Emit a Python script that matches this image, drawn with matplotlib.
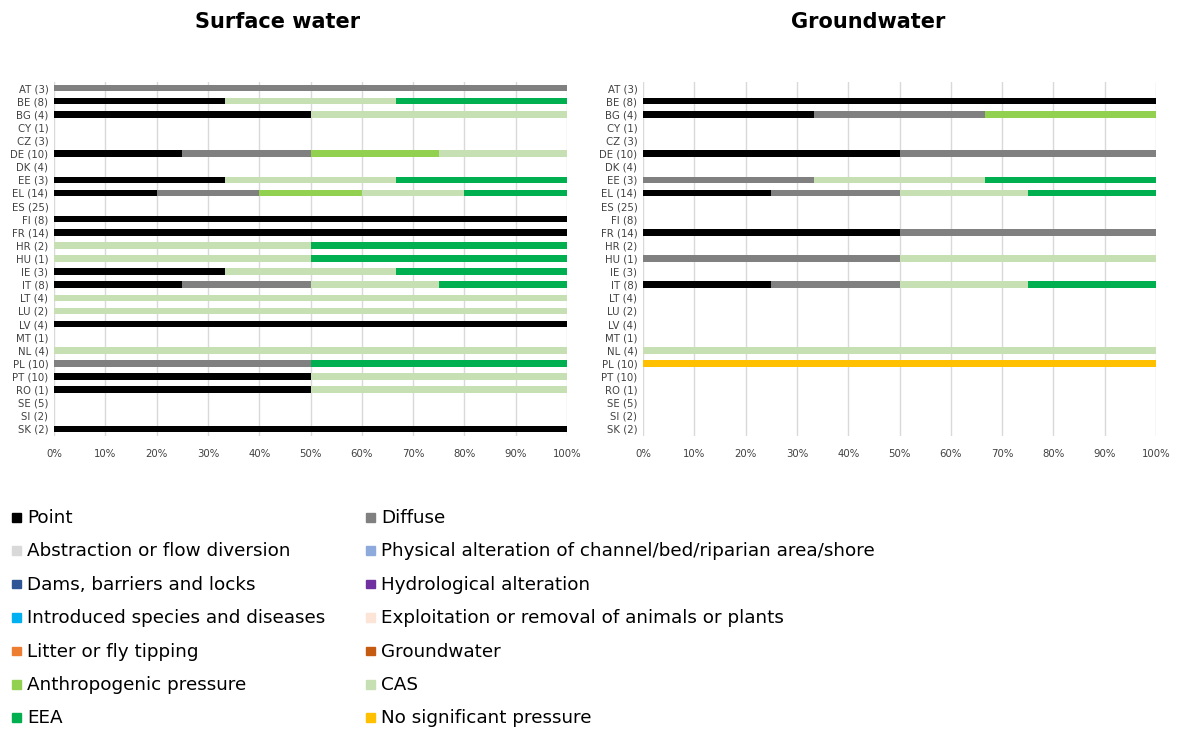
import matplotlib
matplotlib.use("Agg")
import matplotlib.pyplot as plt
from matplotlib.patches import Rectangle
import numpy as np

countries = ["AT (3)", "BE (8)", "BG (4)", "CY (1)", "CZ (3)", "DE (10)", "DK (4)",
             "EE (3)", "EL (14)", "ES (25)", "FI (8)", "FR (14)", "HR (2)", "HU (1)",
             "IE (3)", "IT (8)", "LT (4)", "LU (2)", "LV (4)", "MT (1)", "NL (4)",
             "PL (10)", "PT (10)", "RO (1)", "SE (5)", "SI (2)", "SK (2)"]

categories = ["Point", "Diffuse", "Abstraction or flow diversion",
              "Physical alteration of channel/bed/riparian area/shore",
              "Dams, barriers and locks", "Hydrological alteration",
              "Introduced species and diseases",
              "Exploitation or removal of animals or plants",
              "Litter or fly tipping", "Groundwater", "Anthropogenic pressure",
              "CAS", "EEA", "No significant pressure"]

colors = ["#000000", "#808080", "#D9D9D9", "#8EA9DB", "#2F5597", "#7030A0",
          "#00B0F0", "#FCE4D6", "#ED7D31", "#C55A11", "#92D050", "#C6E0B4",
          "#00B050", "#FFC000"]

# surface water, % share per country (same order as countries)
sw_point = [0, 33.33, 50, 0, 0, 25, 0, 33.33, 20, 0, 100, 100, 0, 0,
            33.33, 25, 0, 0, 100, 0, 0, 0, 50, 50, 0, 0, 100]
sw_diffuse = [100, 0, 0, 0, 0, 25, 0, 0, 20, 0, 0, 0, 0, 0,
              0, 25, 0, 0, 0, 0, 0, 50, 0, 0, 0, 0, 0]
sw_anthro = [0, 0, 0, 0, 0, 25, 0, 0, 20, 0, 0, 0, 0, 0,
             0, 0, 0, 0, 0, 0, 0, 0, 0, 0, 0, 0, 0]
sw_cas = [0, 33.33, 50, 0, 0, 25, 0, 33.33, 20, 0, 0, 0, 50, 50,
          33.33, 25, 100, 100, 0, 0, 100, 0, 50, 50, 0, 0, 0]
sw_eea = [0, 33.34, 0, 0, 0, 0, 0, 33.34, 20, 0, 0, 0, 50, 50,
          33.34, 25, 0, 0, 0, 0, 0, 50, 0, 0, 0, 0, 0]

# groundwater
gw_point = [0, 100, 33.33, 0, 0, 50, 0, 0, 25, 0, 0, 50, 0, 0,
            0, 25, 0, 0, 0, 0, 0, 0, 0, 0, 0, 0, 0]
gw_diffuse = [0, 0, 33.33, 0, 0, 50, 0, 33.33, 25, 0, 0, 50, 0, 50,
              0, 25, 0, 0, 0, 0, 0, 0, 0, 0, 0, 0, 0]
gw_anthro = [0, 0, 33.34, 0, 0, 0, 0, 0, 0, 0, 0, 0, 0, 0,
             0, 0, 0, 0, 0, 0, 0, 0, 0, 0, 0, 0, 0]
gw_cas = [0, 0, 0, 0, 0, 0, 0, 33.33, 25, 0, 0, 0, 0, 50,
          0, 25, 0, 0, 0, 0, 100, 0, 0, 0, 0, 0, 0]
gw_eea = [0, 0, 0, 0, 0, 0, 0, 33.34, 25, 0, 0, 0, 0, 0,
          0, 25, 0, 0, 0, 0, 0, 0, 0, 0, 0, 0, 0]
gw_nosig = [0, 0, 0, 0, 0, 0, 0, 0, 0, 0, 0, 0, 0, 0,
            0, 0, 0, 0, 0, 0, 0, 100, 0, 0, 0, 0, 0]

surface = {"Point": sw_point, "Diffuse": sw_diffuse,
           "Anthropogenic pressure": sw_anthro, "CAS": sw_cas, "EEA": sw_eea}
ground = {"Point": gw_point, "Diffuse": gw_diffuse,
          "Anthropogenic pressure": gw_anthro, "CAS": gw_cas, "EEA": gw_eea,
          "No significant pressure": gw_nosig}

W, H = 1177, 729
fig = plt.figure(figsize=(W / 100, H / 100), dpi=100)
plt.rcParams["font.family"] = ["DejaVu Sans"]


def _axes(x0, x1, top, bottom):
    return fig.add_axes([x0 / W, 1 - bottom / H, (x1 - x0) / W, (bottom - top) / H])


def _draw(ax, data):
    y = np.arange(len(countries))
    left = np.zeros(len(countries))
    for cat, col in zip(categories, colors):
        if cat not in data:
            continue
        vals = np.array(data[cat], dtype=float)
        ax.barh(y, vals, left=left, height=0.5, color=col, zorder=3)
        left += vals
    ax.set_xlim(0, 100)
    ax.set_ylim(len(countries) - 0.5, -0.5)
    ax.set_yticks(y)
    ax.set_yticklabels(countries)
    ax.set_xticks(np.arange(0, 101, 10))
    ax.set_xticklabels([f"{v}%" for v in range(0, 101, 10)])
    ax.tick_params(length=0, labelsize=7.3, colors="#404040", pad=4)
    ax.tick_params(axis="x", pad=10)
    ax.grid(axis="x", color="#D9D9D9", linewidth=1, zorder=0)
    for s in ax.spines.values():
        s.set_visible(False)


ax1 = _axes(54, 567, 81.5, 435.5)
_draw(ax1, surface)
ax2 = _axes(643, 1156, 81.5, 435.5)
_draw(ax2, ground)

fig.text(278 / W, 1 - 22 / H, "Surface water", ha="center", va="center",
         fontsize=15, fontweight="bold")
fig.text(868 / W, 1 - 22 / H, "Groundwater", ha="center", va="center",
         fontsize=15, fontweight="bold")

# legend: two columns, filled row by row
col_x = [12, 366]
row_y0, row_dy = 517, 33.4
for i, (cat, col) in enumerate(zip(categories, colors)):
    cx = col_x[i % 2]
    cy = row_y0 + (i // 2) * row_dy
    fig.add_artist(Rectangle((cx / W, 1 - (cy + 4.5) / H), 8.5 / W, 8.5 / H,
                             transform=fig.transFigure, color=col))
    fig.text((cx + 15) / W, 1 - (cy + 1) / H, cat, ha="left", va="center",
             fontsize=13.2, color="#000000")

fig.savefig("out.png", dpi=100)
